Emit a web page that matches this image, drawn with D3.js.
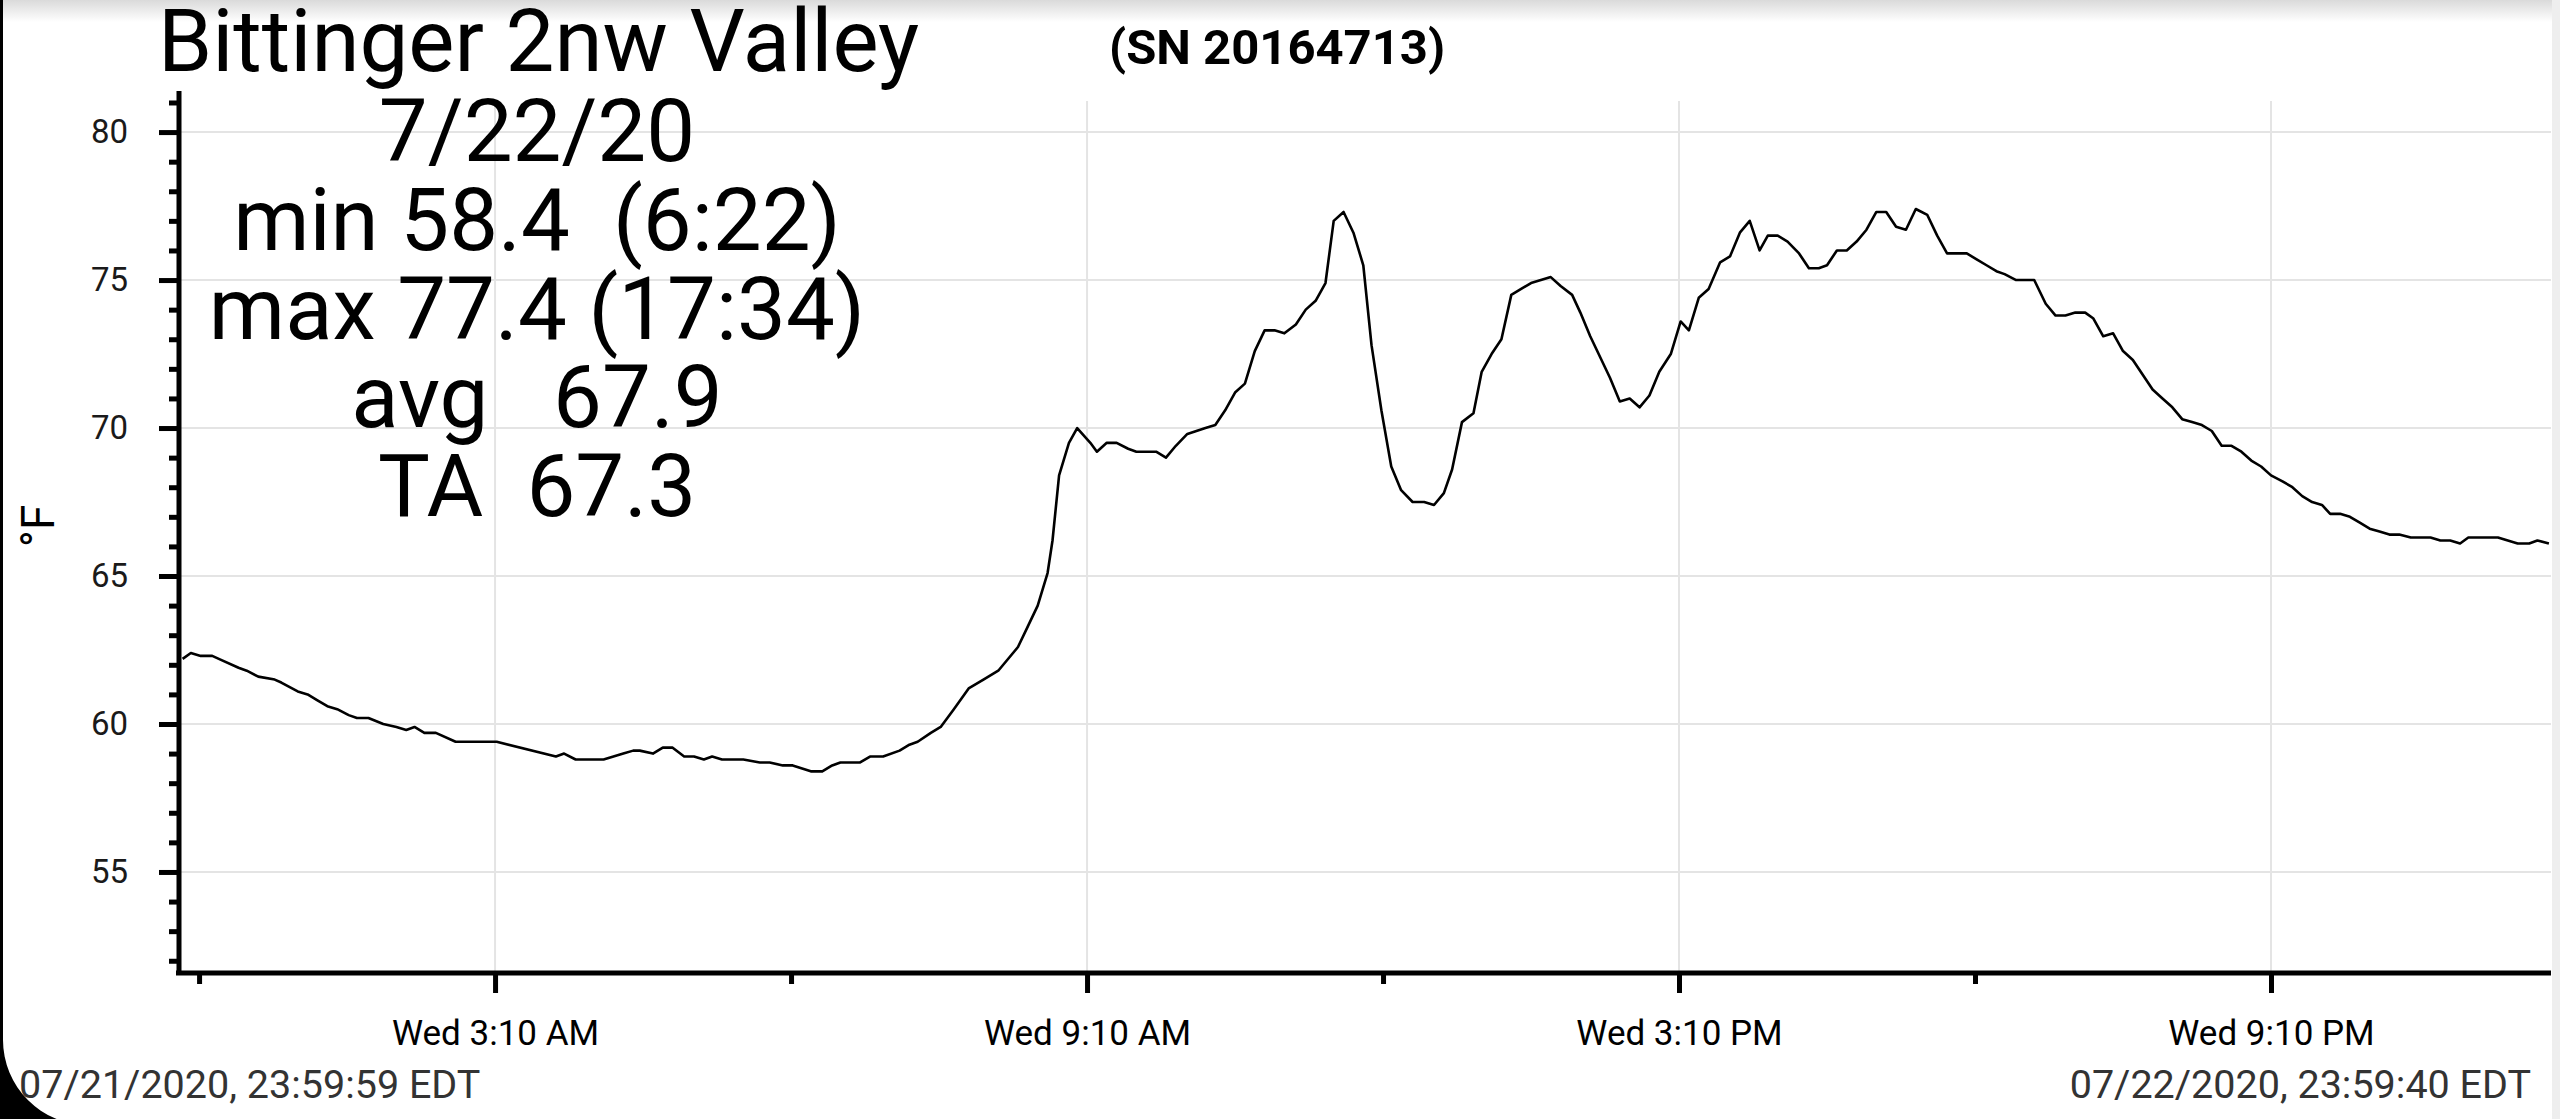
<!DOCTYPE html>
<html><head><meta charset="utf-8">
<script src="https://cdn.jsdelivr.net/npm/d3@7"></script>
<style>
html,body{margin:0;padding:0;background:#fff;overflow:hidden}
svg{display:block;font-family:Roboto,"Noto Sans",sans-serif}
text{white-space:pre}
</style></head><body>
<svg id="c" width="2560" height="1119"></svg>
<script>
const stationName = "Bittinger 2nw Valley";
const serialText = "(SN 20164713)";
const statsLines = ["7/22/20", "min 58.4  (6:22)", "max 77.4 (17:34)", "avg   67.9", "TA  67.3"];
const startLabel = "07/21/2020, 23:59:59 EDT";
const endLabel = "07/22/2020, 23:59:40 EDT";
const yLabel = "°F";
const yMajorTicks = [55, 60, 65, 70, 75, 80];
const yMinorTicks = [52,53,54,56,57,58,59,61,62,63,64,66,67,68,69,71,72,73,74,76,77,78,79,81];
const xMajorTicks = ["03:10", "09:10", "15:10", "21:10"];
const xMinorTicks = ["00:10", "06:10", "12:10", "18:10"];

// minutes after midnight, 07/22/2020
const minutes = [
  0,5,11,18,22,34,39,46,56,60,
  70,76,82,88,94,101,106,113,122,130,
  136,141,147,154,166,191,227,232,239,250,
  256,262,268,274,278,286,292,298,305,311,
  317,322,328,335,341,351,357,365,371,382,
  389,395,400,412,418,426,436,442,447,455,
  461,469,478,487,496,508,514,520,526,529,
  533,539,544,552,556,562,568,575,580,586,
  592,598,604,611,622,628,634,640,646,652,
  658,664,670,677,683,689,695,700,706,712,
  718,723,729,735,741,748,755,761,767,772,
  778,785,790,796,802,808,814,820,832,838,
  845,850,856,862,868,874,880,886,892,898,
  905,911,916,922,928,935,941,947,953,959,
  964,970,976,983,989,995,1000,1006,1012,1018,
  1024,1030,1036,1042,1048,1054,1061,1067,1073,1079,
  1085,1091,1097,1103,1108,1115,1120,1126,1133,1139,
  1145,1151,1157,1162,1168,1174,1180,1186,1192,1198,
  1204,1210,1216,1222,1228,1234,1240,1246,1252,1258,
  1264,1270,1277,1283,1289,1295,1301,1306,1312,1318,
  1324,1330,1336,1342,1348,1355,1367,1373,1379,1385,
  1390,1408,1414,1420,1427,1432,1439
];
// temperature, °F
const temps = [
  62.2,62.4,62.3,62.3,62.2,61.9,61.8,61.6,61.5,61.4,
  61.1,61.0,60.8,60.6,60.5,60.3,60.2,60.2,60.0,59.9,
  59.8,59.9,59.7,59.7,59.4,59.4,58.9,59.0,58.8,58.8,
  58.8,58.9,59.0,59.1,59.1,59.0,59.2,59.2,58.9,58.9,
  58.8,58.9,58.8,58.8,58.8,58.7,58.7,58.6,58.6,58.4,
  58.4,58.6,58.7,58.7,58.9,58.9,59.1,59.3,59.4,59.7,
  59.9,60.5,61.2,61.5,61.8,62.6,63.3,64.0,65.1,66.2,
  68.4,69.5,70.0,69.5,69.2,69.5,69.5,69.3,69.2,69.2,
  69.2,69.0,69.4,69.8,70.0,70.1,70.6,71.2,71.5,72.6,
  73.3,73.3,73.2,73.5,74.0,74.3,74.9,77.0,77.3,76.6,
  75.5,72.8,70.6,68.7,67.9,67.5,67.5,67.4,67.8,68.6,
  70.2,70.5,71.9,72.5,73.0,74.5,74.7,74.9,75.1,74.8,
  74.5,73.9,73.1,72.4,71.7,70.9,71.0,70.7,71.1,71.9,
  72.5,73.6,73.3,74.4,74.7,75.6,75.8,76.6,77.0,76.0,
  76.5,76.5,76.3,75.9,75.4,75.4,75.5,76.0,76.0,76.3,
  76.7,77.3,77.3,76.8,76.7,77.4,77.2,76.5,75.9,75.9,
  75.9,75.7,75.5,75.3,75.2,75.0,75.0,75.0,74.2,73.8,
  73.8,73.9,73.9,73.7,73.1,73.2,72.6,72.3,71.8,71.3,
  71.0,70.7,70.3,70.2,70.1,69.9,69.4,69.4,69.2,68.9,
  68.7,68.4,68.2,68.0,67.7,67.5,67.4,67.1,67.1,67.0,
  66.8,66.6,66.5,66.4,66.4,66.3,66.3,66.2,66.2,66.1,
  66.3,66.3,66.2,66.1,66.1,66.2,66.1
];

const dayStart = Date.UTC(2020, 6, 22);
const atMinute = m => new Date(dayStart + m * 60000);
const atHHMM = s => { const [h, m] = s.split(":").map(Number); return atMinute(h * 60 + m); };

const svg = d3.select("#c");

// background decorations (screen edges)
const defs = svg.append("defs");
const g1 = defs.append("linearGradient").attr("id", "topShade").attr("x1", 0).attr("y1", 0).attr("x2", 0).attr("y2", 1);
g1.append("stop").attr("offset", "0%").attr("stop-color", "#dadada");
g1.append("stop").attr("offset", "100%").attr("stop-color", "#ffffff");
svg.append("rect").attr("x", 0).attr("y", 0).attr("width", 2560).attr("height", 22).attr("fill", "url(#topShade)");
svg.append("rect").attr("x", 2552).attr("y", 0).attr("width", 8).attr("height", 1119).attr("fill", "#eeeeee");

const x = d3.scaleUtc()
  .domain([new Date(dayStart - 1000), new Date(dayStart + (23 * 3600 + 59 * 60 + 40) * 1000)])
  .range([182.6, 2550]);
const y = d3.scaleLinear().domain([51.62, 81.05]).range([972, 101]);

const axisX0 = 176, axisX1 = 2551, axisY = 973, yAxisX = 179;

// grid
const grid = svg.append("g").attr("stroke", "#e4e4e4").attr("stroke-width", 2);
grid.selectAll(".hg").data(yMajorTicks).join("line")
  .attr("x1", yAxisX).attr("x2", axisX1)
  .attr("y1", d => y(d)).attr("y2", d => y(d));
grid.selectAll(".vg").data(xMajorTicks).join("line")
  .attr("x1", d => x(atHHMM(d))).attr("x2", d => x(atHHMM(d)))
  .attr("y1", y.range()[1]).attr("y2", axisY);

// line
const data = minutes.map((m, i) => ({ t: atMinute(m), v: temps[i] }));
svg.append("path").datum(data)
  .attr("fill", "none").attr("stroke", "#000").attr("stroke-width", 2.6)
  .attr("stroke-linejoin", "round")
  .attr("d", d3.line().x(d => x(d.t)).y(d => y(d.v)));

// y axis
const yMinor = svg.append("g").attr("transform", `translate(${yAxisX},0)`)
  .call(d3.axisLeft(y).tickValues(yMinorTicks).tickSize(10).tickSizeOuter(0).tickFormat(""));
const yMajor = svg.append("g").attr("transform", `translate(${yAxisX},0)`)
  .call(d3.axisLeft(y).tickValues(yMajorTicks).tickSize(20).tickSizeOuter(0).tickPadding(31));
[yMinor, yMajor].forEach(g => {
  g.select(".domain").remove();
  g.selectAll(".tick line").attr("stroke", "#000").attr("stroke-width", 5);
});
yMajor.selectAll(".tick text").attr("font-size", 33).attr("fill", "#1a1a1a")
  .attr("font-family", "Roboto, sans-serif");

// x axis
const fmt = d3.utcFormat("%a %-I:%M %p");
const xMinor = svg.append("g").attr("transform", `translate(0,${axisY})`)
  .call(d3.axisBottom(x).tickValues(xMinorTicks.map(atHHMM)).tickSize(11).tickSizeOuter(0).tickFormat(""));
const xMajor = svg.append("g").attr("transform", `translate(0,${axisY})`)
  .call(d3.axisBottom(x).tickValues(xMajorTicks.map(atHHMM)).tickSize(20).tickSizeOuter(0).tickPadding(27).tickFormat(fmt));
[xMinor, xMajor].forEach(g => {
  g.select(".domain").remove();
  g.selectAll(".tick line").attr("stroke", "#000").attr("stroke-width", 5);
});
xMajor.selectAll(".tick text").attr("font-size", 35).attr("fill", "#000")
  .attr("font-family", "Roboto, sans-serif");

// axis lines
svg.append("line").attr("x1", yAxisX).attr("x2", yAxisX).attr("y1", 91).attr("y2", axisY + 2)
  .attr("stroke", "#000").attr("stroke-width", 5);
svg.append("line").attr("x1", axisX0).attr("x2", axisX1).attr("y1", axisY).attr("y2", axisY)
  .attr("stroke", "#000").attr("stroke-width", 5);

// y label
svg.append("text").attr("transform", "translate(54,526) rotate(-90)")
  .attr("text-anchor", "middle").attr("font-size", 46).attr("fill", "#000").text(yLabel);

// title
svg.append("text").attr("x", 158).attr("y", 71).attr("font-size", 87).attr("fill", "#000").text(stationName);
svg.append("text").attr("x", 1109).attr("y", 64).attr("font-size", 49).attr("font-weight", "bold")
  .attr("fill", "#000").text(serialText);

// stats
svg.append("g").selectAll("text").data(statsLines).join("text")
  .attr("x", 537).attr("y", (d, i) => 161 + i * 88.8)
  .attr("text-anchor", "middle").attr("font-size", 87).attr("fill", "#000")
  .text(d => d);

// bottom labels
svg.append("text").attr("x", 19).attr("y", 1098).attr("font-size", 39.5).attr("fill", "#333").text(startLabel);
svg.append("text").attr("x", 2531).attr("y", 1098).attr("text-anchor", "end").attr("font-size", 39.5)
  .attr("fill", "#333").text(endLabel);

// screen frame: left edge and rounded bottom-left corner
svg.append("rect").attr("x", 0).attr("y", 0).attr("width", 3).attr("height", 1119).attr("fill", "#000");
svg.append("path").attr("fill", "#000")
  .attr("d", "M0,1040 L3,1040 A85,85 0 0 0 88,1125 L0,1125 Z");
</script>
</body></html>
